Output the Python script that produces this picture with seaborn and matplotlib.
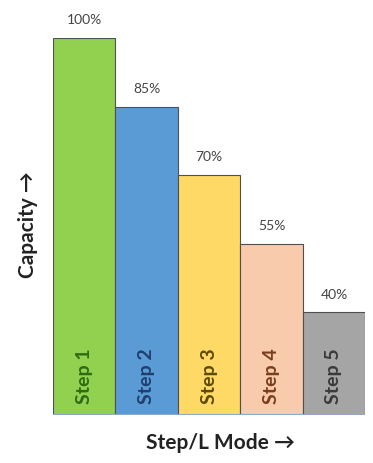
import pandas as pd
import seaborn as sns
import matplotlib.pyplot as plt

steps = ["Step 1", "Step 2", "Step 3", "Step 4", "Step 5"]
capacity = [100, 85, 70, 55, 40]
labels = ["100%", "85%", "70%", "55%", "40%"]
fill_colors = ["#92D050", "#5B9BD5", "#FFD966", "#F8CBAD", "#A5A5A5"]
text_colors = ["#2E6B12", "#1F3F6E", "#5C4A00", "#7A3E1E", "#3A3A3A"]

sns.set_style("white")
plt.rcParams['font.family'] = ['Lato', 'DejaVu Sans']

df = pd.DataFrame({"step": steps, "capacity": capacity})

fig = plt.figure(figsize=(3.73, 4.64), dpi=100)
ax = fig.add_axes([0.142, 0.103, 0.837, 0.813])

sns.barplot(data=df, x="step", y="capacity", hue="step", palette=fill_colors,
            saturation=1, width=1.0, edgecolor="#505050", linewidth=0.8,
            legend=False, ax=ax)

ax.set_ylim(17.5, 100)
ax.set_xlim(-0.5, 4.5)

for i, (val, lab) in enumerate(zip(capacity, labels)):
    ax.text(i, val + 2.8, lab, ha="center", va="bottom", fontsize=10,
            color="#444444", clip_on=False)
    ax.text(i, 20.2, steps[i], rotation=90, ha="center", va="bottom",
            fontsize=14, fontweight="bold", color=text_colors[i])

ax.set_xticks([])
ax.set_yticks([])
ax.set_xlabel("")
ax.set_ylabel("")
sns.despine(ax=ax, left=True, bottom=True)
ax.axhline(17.5, color="#8EA9C8", linewidth=1.5)

fig.text(0.59, 0.045, "Step/L Mode \u2192", ha="center", va="center",
         fontsize=15, fontweight="bold", color="#222222")
fig.text(0.075, 0.515, "Capacity \u2192", ha="center", va="center",
         rotation=90, fontsize=15, fontweight="bold", color="#222222")

fig.savefig("out.png", dpi=100)
